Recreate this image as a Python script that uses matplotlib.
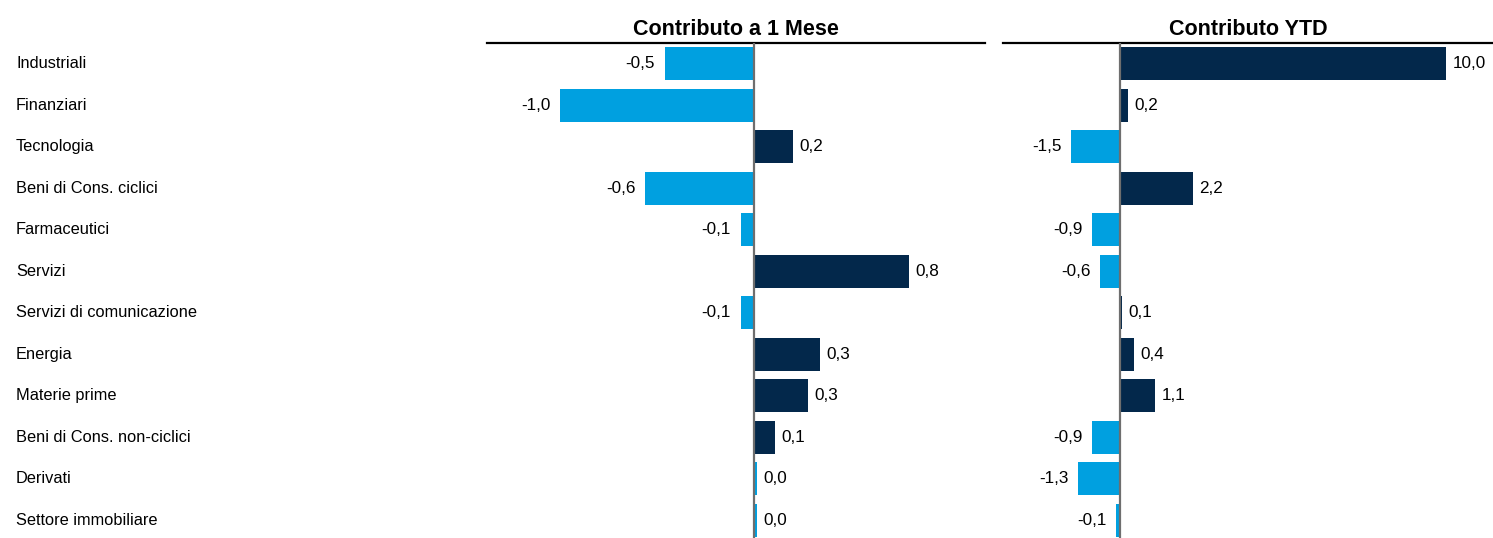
import matplotlib
matplotlib.use('Agg')
import matplotlib.pyplot as plt
from matplotlib import transforms

plt.rcParams['font.family'] = ['Liberation Sans', 'DejaVu Sans']

# dati
settori = ['Industriali', 'Finanziari', 'Tecnologia', 'Beni di Cons. ciclici', 'Farmaceutici',
           'Servizi', 'Servizi di comunicazione', 'Energia', 'Materie prime',
           'Beni di Cons. non-ciclici', 'Derivati', 'Settore immobiliare']
contrib_1m = [-0.46, -1.0, 0.2, -0.56, -0.07, 0.8, -0.07, 0.34, 0.28, 0.11, 0.015, 0.015]
contrib_ytd = [10.0, 0.25, -1.5, 2.24, -0.86, -0.6, 0.06, 0.42, 1.08, -0.86, -1.29, -0.12]

scuro = '#03284b'
chiaro = '#00a0e0'


def fmt(v):
    return ('%.1f' % v).replace('.', ',')


fig = plt.figure(figsize=(14.93, 5.38), dpi=100)
ax1 = fig.add_axes([0.3262, -0.0056, 0.3336, 0.9256])
ax2 = fig.add_axes([0.6718, -0.0056, 0.3282, 0.9256])

pannelli = [(ax1, contrib_1m, 'Contributo a 1 Mese', (-1.376, 1.19)),
            (ax2, contrib_ytd, 'Contributo YTD', (-3.59, 11.44))]

y = list(range(len(settori)))
for ax, vals, titolo, lim in pannelli:
    colori = [scuro if round(v, 1) > 0 else chiaro for v in vals]
    ax.barh(y, vals, height=0.8, color=colori, zorder=2)
    ax.axvline(0, color='#6e6e6e', lw=1.6, zorder=3)
    for i, v in enumerate(vals):
        if v >= 0:
            ax.annotate(fmt(v), (v, i), xytext=(4.6, 0), textcoords='offset points',
                        va='center', ha='left', fontsize=12.3)
        else:
            ax.annotate(fmt(v), (v, i), xytext=(-7, 0), textcoords='offset points',
                        va='center', ha='right', fontsize=12.3)
    ax.set_xlim(*lim)
    ax.set_ylim(11.5, -0.5)
    ax.set_xticks([])
    ax.set_yticks([])
    for s in ['left', 'right', 'bottom']:
        ax.spines[s].set_visible(False)
    ax.spines['top'].set_linewidth(1.6)
    ax.spines['top'].set_color('black')
    ax.set_title(titolo, fontsize=15.5, fontweight='bold', pad=6)

trans = transforms.blended_transform_factory(fig.transFigure, ax1.transData)
for i, s in enumerate(settori):
    ax1.text(16 / 1493, i, s, transform=trans, va='center', ha='left', fontsize=11.8)

fig.savefig('out.png', dpi=100)
